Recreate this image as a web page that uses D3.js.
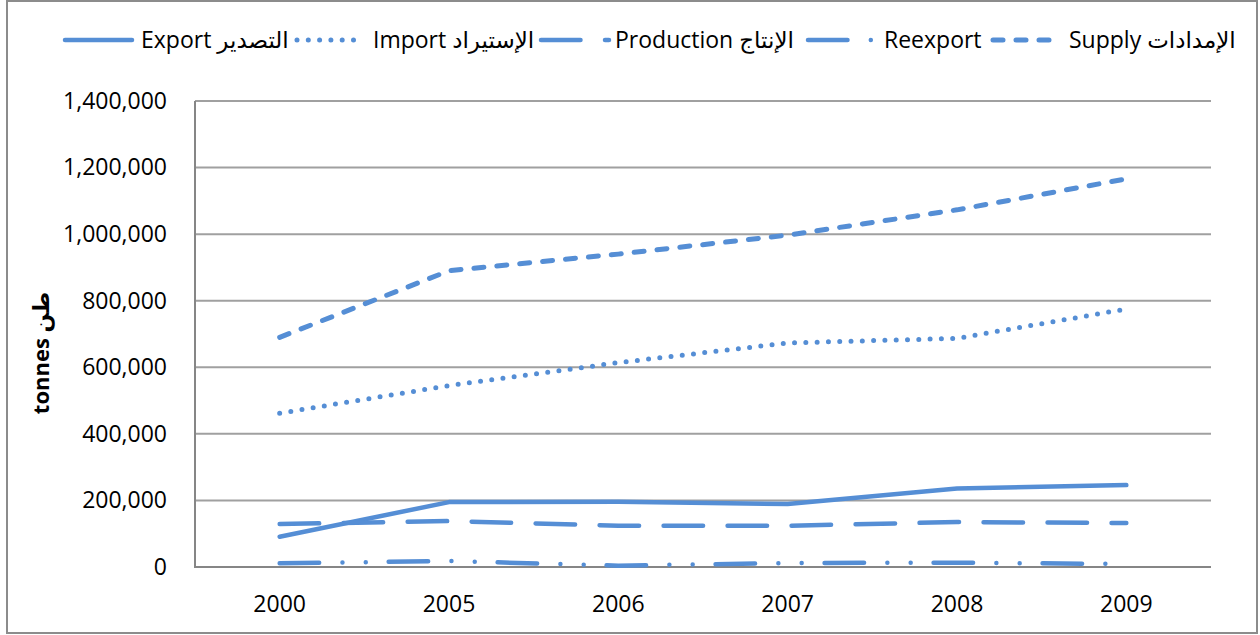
<!DOCTYPE html>
<html><head><meta charset="utf-8">
<script src="https://cdn.jsdelivr.net/npm/d3@7"></script>
<style>
body{margin:0;background:#fff}
text{font-family:'Open Sans','DejaVu Sans',sans-serif;fill:#000}
</style>
</head><body>
<svg id="c" width="1260" height="635"></svg>
<script>
// ---- data ----
const years = ["2000","2005","2006","2007","2008","2009"];
const exportVals     = [91000, 195000, 196000, 189000, 236000, 246000];
const importVals     = [462000, 545000, 614000, 673000, 687000, 775000];
const productionVals = [129000, 138000, 124000, 124000, 135000, 132000];
const reexportVals   = [11000, 18000, 4000, 12000, 13000, 9000];
const supplyVals     = [690000, 890000, 940000, 997000, 1073000, 1166000];
const yTickValues = [0, 200000, 400000, 600000, 800000, 1000000, 1200000, 1400000];
const seriesLabels = ["Export التصدير", "Import الإستيراد", "Production الإنتاج", "Reexport", "Supply الإمدادات"];
const yTitle = "tonnes طن";

// ---- styles ----
const color = "#558ED5";
const styles = [
  {w:4.5, dash:null},
  {w:5, dash:"0 11.3"},
  {w:4.5, dash:"39.5 24.5"},
  {w:4.5, dash:"39.5 23.3 0 23.3 0 22.9"},
  {w:5, dash:"10 13"}
];
const seriesVals = [exportVals, importVals, productionVals, reexportVals, supplyVals];
const FS = 23;

const svg = d3.select("#c");
// outer border
svg.append("rect").attr("x",7).attr("y",1).attr("width",1250).attr("height",632)
  .attr("fill","none").attr("stroke","#8c8c8c").attr("stroke-width",2);

const L = 195, R = 1211, T = 101, B = 567;
const x = d3.scaleBand().domain(years).range([L, R]);
const y = d3.scaleLinear().domain([0, 1400000]).range([B, T]);
const cx = d => x(d) + x.bandwidth()/2;

// gridlines
svg.append("g").selectAll("line").data(yTickValues.filter(v=>v>0)).join("line")
  .attr("x1", L).attr("x2", R).attr("y1", d=>y(d)).attr("y2", d=>y(d))
  .attr("stroke","#a0a0a0").attr("stroke-width",2);

// y axis labels
const fmt = d3.format(",");
const yAxis = d3.axisLeft(y).tickValues(yTickValues).tickFormat(fmt).tickSize(0).tickPadding(28);
const gy = svg.append("g").attr("transform",`translate(${L},0)`).call(yAxis);
gy.select(".domain").remove();
gy.selectAll("text").attr("font-size",FS).attr("font-family","'Open Sans','DejaVu Sans',sans-serif").attr("fill","#000");

// x axis labels
const xAxis = d3.axisBottom(x).tickSize(0).tickPadding(29);
const gx = svg.append("g").attr("transform",`translate(0,${B})`).call(xAxis);
gx.select(".domain").remove();
gx.selectAll("text").attr("font-size",FS).attr("font-family","'Open Sans','DejaVu Sans',sans-serif").attr("fill","#000");

// axis lines
svg.append("line").attr("x1",L).attr("x2",L).attr("y1",T).attr("y2",B+1).attr("stroke","#868686").attr("stroke-width",2);
svg.append("line").attr("x1",L).attr("x2",R).attr("y1",B).attr("y2",B).attr("stroke","#868686").attr("stroke-width",2);

// y title
svg.append("text").attr("transform",`translate(49,353) rotate(-90)`)
  .attr("text-anchor","middle").attr("font-size",22).attr("font-weight","bold").text(yTitle);

// series lines
const line = d3.line().x((d,i)=>cx(years[i])).y(d=>y(d));
seriesVals.forEach((vals,k)=>{
  const s = styles[k];
  svg.append("path").datum(vals).attr("d", line)
    .attr("fill","none").attr("stroke",color).attr("stroke-width",s.w)
    .attr("stroke-linecap","round").attr("stroke-linejoin","round")
    .attr("stroke-dasharray", s.dash);
});

// legend
const legendPos = [
  {x0:65, x1:132, tx:141},
  {x0:297, x1:362, tx:373},
  {x0:541, x1:609, tx:615},
  {x0:808, x1:873, tx:884},
  {x0:993, x1:1061, tx:1069}
];
const ly = 40;
seriesLabels.forEach((lab,k)=>{
  const s = styles[k], p = legendPos[k];
  svg.append("line").attr("x1",p.x0).attr("x2",p.x1).attr("y1",ly).attr("y2",ly)
    .attr("stroke",color).attr("stroke-width",s.w).attr("stroke-linecap","round")
    .attr("stroke-dasharray", s.dash);
  svg.append("text").attr("x",p.tx).attr("y",ly).attr("dy","0.35em")
    .attr("font-size",FS).text(lab);
});
</script>
</body></html>
